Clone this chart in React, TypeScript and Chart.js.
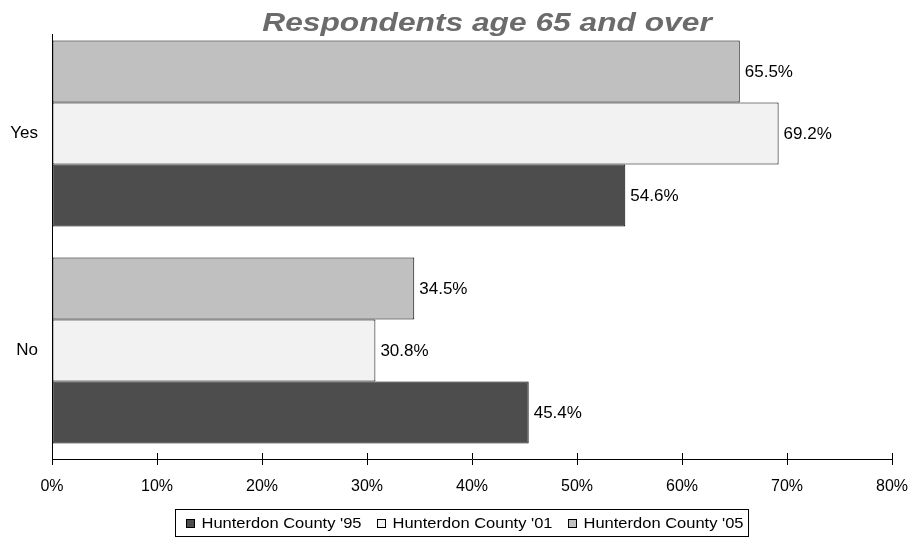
import React, { useEffect, useRef } from "react";
import { Chart, registerables } from "chart.js";

Chart.register(...registerables);

const categories = ["Yes", "No"];
const series95 = [54.6, 45.4];
const series01 = [69.2, 30.8];
const series05 = [65.5, 34.5];
const seriesNames = ["Hunterdon County '95", "Hunterdon County '01", "Hunterdon County '05"];
const seriesColors = ["#4d4d4d", "#f2f2f2", "#c0c0c0"];
const xMin = 0;
const xMax = 80;
const xStep = 10;
const chartTitle = "Respondents age 65 and over";

const FONT = "'Liberation Sans', Arial, Helvetica, sans-serif";

const axisDecor = {
  id: "axisDecor",
  afterDraw(chart: any) {
    const { ctx, chartArea, scales } = chart;
    ctx.save();
    ctx.strokeStyle = "#000";
    ctx.lineWidth = 1;
    const x0 = Math.round(chartArea.left) + 0.5;
    ctx.beginPath();
    ctx.moveTo(x0, chartArea.top + 9);
    ctx.lineTo(x0, chartArea.bottom + 6);
    ctx.stroke();
    const xs = scales.x;
    xs.ticks.forEach((t: any) => {
      const px = Math.round(xs.getPixelForValue(t.value)) + 0.5;
      ctx.beginPath();
      ctx.moveTo(px, chartArea.bottom - 6);
      ctx.lineTo(px, chartArea.bottom);
      ctx.stroke();
    });
    ctx.restore();
  },
};

const dataLabels = {
  id: "dataLabels",
  afterDatasetsDraw(chart: any) {
    const { ctx } = chart;
    ctx.save();
    ctx.font = `17px ${FONT}`;
    ctx.fillStyle = "#000";
    ctx.textAlign = "left";
    ctx.textBaseline = "middle";
    chart.data.datasets.forEach((ds: any, di: number) => {
      const meta = chart.getDatasetMeta(di);
      meta.data.forEach((el: any, i: number) => {
        const v = ds.data[i];
        ctx.fillText(`${v.toFixed(1)}%`, el.x + 5, el.y + 1);
      });
    });
    ctx.restore();
  },
};

const titlePlugin = {
  id: "customTitle",
  afterDraw(chart: any) {
    const { ctx, chartArea } = chart;
    ctx.save();
    ctx.translate((chartArea.left + chartArea.right) / 2 + 15, chartArea.top + 6);
    ctx.scale(1.22, 1);
    ctx.font = `italic bold 26px ${FONT}`;
    ctx.fillStyle = "#6b6b6b";
    ctx.textAlign = "center";
    ctx.textBaseline = "alphabetic";
    ctx.fillText(chartTitle, 0, 0);
    ctx.restore();
  },
};

const legendBox = {
  id: "legendBox",
  afterDraw(chart: any) {
    const { ctx } = chart;
    const sx = 1.1;
    const datasets = chart.data.datasets.slice().reverse();
    ctx.save();
    ctx.font = `15px ${FONT}`;
    const widths = datasets.map((d: any) => ctx.measureText(d.label).width * sx);
    const marker = 9;
    const gapText = 16;
    const gapItem = 15;
    const total = 10 + widths.reduce((a: number, w: number) => a + gapText + w, 0) + gapItem * (datasets.length - 1) + 5;
    const center = 461.5;
    const left = Math.round(center - total / 2) + 0.5;
    const top = chart.chartArea.bottom + 50.5;
    const bottom = chart.height - 0.5;
    ctx.fillStyle = "#fff";
    ctx.fillRect(left, top, total, bottom - top);
    ctx.strokeStyle = "#000";
    ctx.lineWidth = 1;
    ctx.strokeRect(left, top, total, bottom - top);
    const cy = (top + bottom) / 2;
    let x = left + 10;
    datasets.forEach((d: any, i: number) => {
      ctx.fillStyle = d.backgroundColor;
      ctx.fillRect(Math.round(x), Math.round(cy - marker / 2), marker, marker);
      ctx.strokeStyle = "#000";
      ctx.strokeRect(Math.round(x) + 0.5, Math.round(cy - marker / 2) + 0.5, marker - 1, marker - 1);
      ctx.save();
      ctx.translate(x + gapText, cy + 1);
      ctx.scale(sx, 1);
      ctx.fillStyle = "#000";
      ctx.textAlign = "left";
      ctx.textBaseline = "middle";
      ctx.fillText(d.label, 0, 0);
      ctx.restore();
      x += gapText + widths[i] + gapItem;
    });
    ctx.restore();
  },
};

export default function App() {
  const canvasRef = useRef<HTMLCanvasElement | null>(null);

  useEffect(() => {
    if (!canvasRef.current) return;
    Chart.defaults.font.family = FONT;
    const chart = new Chart(canvasRef.current, {
      type: "bar",
      data: {
        labels: categories,
        datasets: [
          { label: seriesNames[2], data: series05, backgroundColor: seriesColors[2] },
          { label: seriesNames[1], data: series01, backgroundColor: seriesColors[1] },
          { label: seriesNames[0], data: series95, backgroundColor: seriesColors[0] },
        ].map((d) => ({
          ...d,
          borderColor: "#000",
          borderWidth: 1,
          borderSkipped: false,
          categoryPercentage: 0.857,
          barPercentage: 1,
        })),
      },
      options: {
        indexAxis: "y",
        responsive: true,
        maintainAspectRatio: false,
        animation: false,
        layout: { padding: { top: 25, right: 25, left: 0, bottom: 0 } },
        plugins: {
          legend: { display: false },
          title: { display: false },
          tooltip: { enabled: false },
        },
        scales: {
          x: {
            type: "linear",
            min: xMin,
            max: xMax,
            ticks: {
              stepSize: xStep,
              callback: (v: any) => `${v}%`,
              color: "#000",
              font: { size: 16, family: FONT },
              padding: 12,
              maxRotation: 0,
              autoSkip: false,
            },
            grid: {
              display: true,
              drawOnChartArea: false,
              drawTicks: true,
              tickLength: 6,
              color: "#000",
              lineWidth: 1,
            },
            border: { display: true, color: "#000", width: 1 },
            afterFit: (s: any) => {
              s.height = 78;
              s.paddingLeft = 0;
              s.paddingRight = 0;
            },
          },
          y: {
            type: "category",
            grid: { display: false, drawTicks: false },
            border: { display: false },
            ticks: { color: "#000", font: { size: 17, family: FONT }, padding: 14 },
            afterFit: (s: any) => {
              s.width = 52;
              s.paddingTop = 0;
              s.paddingBottom = 0;
            },
          },
        },
      } as any,
      plugins: [axisDecor, dataLabels, titlePlugin, legendBox],
    });
    return () => chart.destroy();
  }, []);

  return (
    <div style={{ position: "fixed", left: 0, top: 0, width: 917, height: 537, background: "#fff" }}>
      <canvas ref={canvasRef} />
    </div>
  );
}
